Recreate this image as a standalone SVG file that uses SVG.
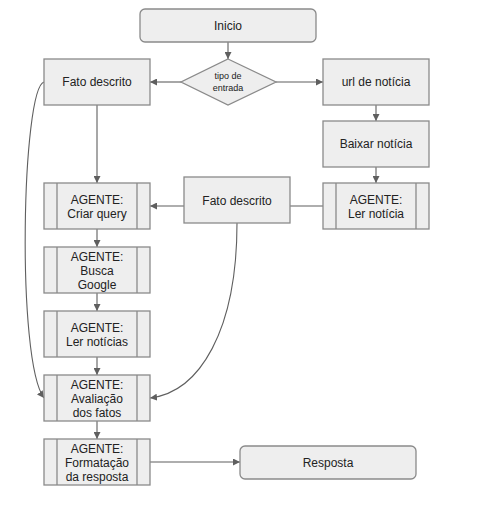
<svg xmlns="http://www.w3.org/2000/svg" width="480" height="510" viewBox="0 0 480 510">
<style>
.b{fill:#eeeeee;stroke:#8a8a8a;stroke-width:1.3}
.t{font-family:"Liberation Sans",Arial,sans-serif;font-size:12px;fill:#222;text-anchor:middle}
.s{font-size:9px}
.c{fill:none;stroke:#5f5f5f;stroke-width:1.1}
</style>
<defs>
<marker id="a" viewBox="0 0 10 10" refX="10" refY="5" markerWidth="7" markerHeight="7" markerUnits="userSpaceOnUse" orient="auto">
<path d="M0,0 L10,5 L0,10 z" fill="#5f5f5f"/>
</marker>
</defs>
<rect width="480" height="510" fill="#ffffff"/>
<g id="connectors">
<path class="c" d="M228,42 V59" marker-end="url(#a)"/>
<path class="c" d="M181,82 H150" marker-end="url(#a)"/>
<path class="c" d="M276,82 H323" marker-end="url(#a)"/>
<path class="c" d="M376,105 V121" marker-end="url(#a)"/>
<path class="c" d="M376,167 V183" marker-end="url(#a)"/>
<path class="c" d="M97,105 V183" marker-end="url(#a)"/>
<path class="c" d="M184,206 H150" marker-end="url(#a)"/>
<path class="c" d="M290,206 H323"/>
<path class="c" d="M97,229 V247" marker-end="url(#a)"/>
<path class="c" d="M97,293 V311" marker-end="url(#a)"/>
<path class="c" d="M97,357 V375" marker-end="url(#a)"/>
<path class="c" d="M97,421 V439" marker-end="url(#a)"/>
<path class="c" d="M150,462 H240" marker-end="url(#a)"/>
<path class="c" d="M44,82 C22,88 16,360 44,398" marker-end="url(#a)"/>
<path class="c" d="M237,223 C237,330 200,392 150,398" marker-end="url(#a)"/>
</g>
<g id="inicio"><rect class="b" x="140" y="9" width="176" height="33" rx="5"/><text class="t" x="228" y="30">Inicio</text></g>
<g id="tipo"><path class="b" d="M228,59 L276,82 L228,105 L181,82 z"/><text class="t s" x="228" y="79">tipo de</text><text class="t s" x="228" y="91">entrada</text></g>
<g id="fato1"><rect class="b" x="44" y="59" width="106" height="46"/><text class="t" x="97" y="86">Fato descrito</text></g>
<g id="url"><rect class="b" x="323" y="59" width="106" height="46"/><text class="t" x="376" y="86">url de notícia</text></g>
<g id="baixar"><rect class="b" x="323" y="121" width="106" height="46"/><text class="t" x="376" y="148">Baixar notícia</text></g>
<g id="lernoticia"><rect class="b" x="323" y="183" width="106" height="46"/><path class="b" d="M336,183 V229 M416,183 V229"/><text class="t" x="376" y="204">AGENTE:</text><text class="t" x="376" y="218">Ler notícia</text></g>
<g id="fato2"><rect class="b" x="184" y="177" width="106" height="46"/><text class="t" x="237" y="205">Fato descrito</text></g>
<g id="criar"><rect class="b" x="44" y="183" width="106" height="46"/><path class="b" d="M57,183 V229 M137,183 V229"/><text class="t" x="97" y="204">AGENTE:</text><text class="t" x="97" y="218">Criar query</text></g>
<g id="busca"><rect class="b" x="44" y="247" width="106" height="46"/><path class="b" d="M57,247 V293 M137,247 V293"/><text class="t" x="97" y="261">AGENTE:</text><text class="t" x="97" y="275">Busca</text><text class="t" x="97" y="289">Google</text></g>
<g id="lernoticias"><rect class="b" x="44" y="311" width="106" height="46"/><path class="b" d="M57,311 V357 M137,311 V357"/><text class="t" x="97" y="332">AGENTE:</text><text class="t" x="97" y="346">Ler notícias</text></g>
<g id="avaliacao"><rect class="b" x="44" y="375" width="106" height="46"/><path class="b" d="M57,375 V421 M137,375 V421"/><text class="t" x="97" y="389">AGENTE:</text><text class="t" x="97" y="403">Avaliação</text><text class="t" x="97" y="417">dos fatos</text></g>
<g id="formatacao"><rect class="b" x="44" y="439" width="106" height="46"/><path class="b" d="M57,439 V485 M137,439 V485"/><text class="t" x="97" y="453">AGENTE:</text><text class="t" x="97" y="467">Formatação</text><text class="t" x="97" y="481">da resposta</text></g>
<g id="resposta"><rect class="b" x="240" y="446" width="176" height="33" rx="5"/><text class="t" x="328" y="467">Resposta</text></g>
</svg>
